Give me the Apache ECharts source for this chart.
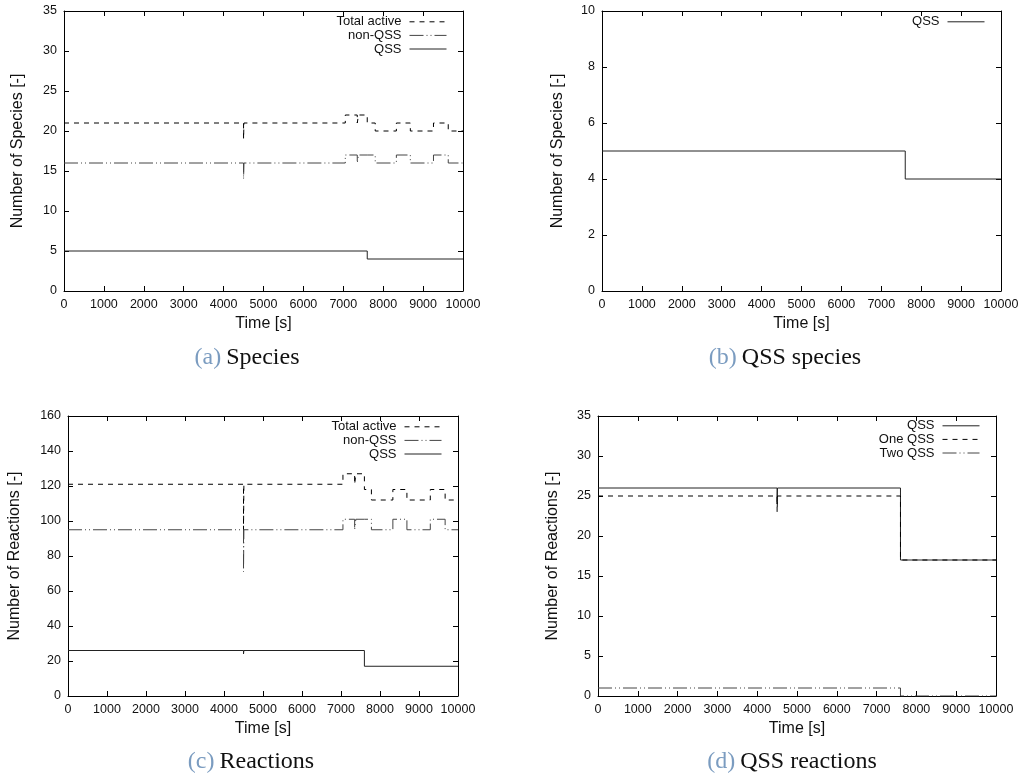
<!DOCTYPE html>
<html><head><meta charset="utf-8">
<script src="https://cdn.jsdelivr.net/npm/echarts@6/dist/echarts.min.js"></script>
<style>html,body{margin:0;padding:0;background:#fff}#c{width:1023px;height:778px}</style>
</head><body><div id="c"></div>
<script>
// ---- (a) Species ----
const aTime = [0, 4500, 4510, 7050, 7350, 7380, 7600, 7800, 8330, 8680, 9260, 9630, 10000];
const aTotalActive = [21, 19, 21, 22, 21, 22, 21, 20, 21, 20, 21, 20, 20];
const aNonQSS = [16, 14, 16, 17, 16, 17, 17, 16, 17, 16, 17, 16, 16];
const aQSSTime = [0, 7600, 10000];
const aQSS = [5, 4, 4];
// ---- (b) QSS species ----
const bTime = [0, 7600, 10000];
const bQSS = [5, 4, 4];
// ---- (c) Reactions ----
const cTime = [0, 4500, 4510, 7050, 7350, 7380, 7600, 7780, 8330, 8690, 9290, 9670, 10000];
const cTotalActive = [121, 95, 121, 127, 121, 127, 118, 112, 118, 112, 118, 112, 112];
const cNonQSS = [95, 71, 95, 101, 95, 101, 101, 95, 101, 95, 101, 95, 95];
const cQSSTime = [0, 4500, 4510, 7600, 10000];
const cQSS = [26, 24, 26, 17, 17];
// ---- (d) QSS reactions ----
const dTime = [0, 4500, 4510, 7600, 10000];
const dQSS = [26, 24, 26, 17, 17];
const dOneQSS = [25, 23, 25, 17, 17];
const dTwoQSSTime = [0, 7600, 10000];
const dTwoQSS = [1, 0, 0];
// ---- axes / captions ----
const xName = 'Time [s]';
const yNames = ['Number of Species [-]', 'Number of Species [-]', 'Number of Reactions [-]', 'Number of Reactions [-]'];
const yMax = [35, 10, 160, 35];
const yStep = [5, 2, 20, 5];
const captionTags = ['(a)', '(b)', '(c)', '(d)'];
const captionTexts = ['Species', 'QSS species', 'Reactions', 'QSS reactions'];

const FONT = 'Liberation Sans';
const grids = [
  {left: 64, top: 11, width: 399, height: 280},
  {left: 602, top: 11, width: 399, height: 280},
  {left: 68, top: 416, width: 390, height: 280},
  {left: 598, top: 416, width: 398, height: 280}
];
const yNameGaps = [38, 36, 45, 37];
const captionPos = [[247, 346], [785, 346], [251, 750], [792, 750]];
const legendPos = [[576, 15], [38, 15], [581, 420], [43, 419]];
const legendData = [
  ['Total active', 'non-QSS', 'QSS'],
  ['QSS'],
  ['Total active', 'non-QSS', 'QSS'],
  ['QSS', 'One QSS', 'Two QSS']
];

const pairs = (t, v) => t.map((x, i) => [x, v[i]]);
const styles = {
  solid: {color: '#222', width: 1, type: 'solid'},
  dash: {color: '#000', width: 1, type: [5, 5]},
  dashdot: {color: '#444', width: 1, type: [14, 3, 1, 3, 1, 3]}
};
function mkSeries(name, panel, data, st) {
  return {
    type: 'line', name, xAxisIndex: panel * 2, yAxisIndex: panel * 2,
    data, step: 'end', symbol: 'none', showSymbol: false, animation: false,
    lineStyle: styles[st], itemStyle: {color: styles[st].color}, emphasis: {disabled: true}
  };
}

const plain = v => String(v);
const xAxes = [], yAxes = [];
grids.forEach((g, i) => {
  const tickCommon = {show: true, inside: true, length: 5, lineStyle: {color: '#000', width: 1}};
  const lineCommon = {show: true, onZero: false, lineStyle: {color: '#000', width: 1}};
  xAxes.push({
    gridIndex: i, type: 'value', min: 0, max: 10000, interval: 1000, position: 'bottom',
    axisLine: lineCommon, axisTick: tickCommon, splitLine: {show: false},
    axisLabel: {show: true, formatter: plain, fontFamily: FONT, fontSize: 12.5, color: '#111', margin: 7, hideOverlap: false, showMaxLabel: true, showMinLabel: true},
    name: xName, nameLocation: 'middle', nameGap: 25,
    nameTextStyle: {fontFamily: FONT, fontSize: 16, color: '#111'}
  });
  xAxes.push({
    gridIndex: i, type: 'value', min: 0, max: 10000, interval: 1000, position: 'top',
    axisLine: lineCommon, axisTick: tickCommon, splitLine: {show: false}, axisLabel: {show: false}
  });
  yAxes.push({
    gridIndex: i, type: 'value', min: 0, max: yMax[i], interval: yStep[i], position: 'left',
    axisLine: lineCommon, axisTick: tickCommon, splitLine: {show: false},
    axisLabel: {show: true, formatter: plain, fontFamily: FONT, fontSize: 12.5, color: '#111', margin: 7, showMaxLabel: true, showMinLabel: true},
    name: yNames[i], nameLocation: 'middle', nameGap: yNameGaps[i], nameRotate: 90,
    nameTextStyle: {fontFamily: FONT, fontSize: 16, color: '#111'}
  });
  yAxes.push({
    gridIndex: i, type: 'value', min: 0, max: yMax[i], interval: yStep[i], position: 'right',
    axisLine: lineCommon, axisTick: tickCommon, splitLine: {show: false}, axisLabel: {show: false}
  });
});

const series = [
  mkSeries('Total active', 0, pairs(aTime, aTotalActive), 'dash'),
  mkSeries('non-QSS', 0, pairs(aTime, aNonQSS), 'dashdot'),
  mkSeries('QSS', 0, pairs(aQSSTime, aQSS), 'solid'),
  mkSeries('QSS', 1, pairs(bTime, bQSS), 'solid'),
  mkSeries('Total active', 2, pairs(cTime, cTotalActive), 'dash'),
  mkSeries('non-QSS', 2, pairs(cTime, cNonQSS), 'dashdot'),
  mkSeries('QSS', 2, pairs(cQSSTime, cQSS), 'solid'),
  mkSeries('QSS', 3, pairs(dTime, dQSS), 'solid'),
  mkSeries('One QSS', 3, pairs(dTime, dOneQSS), 'dash'),
  mkSeries('Two QSS', 3, pairs(dTwoQSSTime, dTwoQSS), 'dashdot')
];

const legends = legendData.map((d, i) => ({
  data: d, orient: 'vertical', align: 'right', right: legendPos[i][0], top: legendPos[i][1],
  itemWidth: 37, itemHeight: 10, itemGap: 0, selectedMode: false, padding: 0,
  itemStyle: {opacity: 0},
  lineStyle: {width: 1},
  textStyle: {fontFamily: FONT, fontSize: 13, color: '#111', lineHeight: 13.6, padding: [0, 3, 0, 0]}
}));

const titles = captionTags.map((tag, i) => ({
  text: '{t|' + tag + '} {c|' + captionTexts[i] + '}',
  left: captionPos[i][0], top: captionPos[i][1], textAlign: 'center', padding: 0,
  textStyle: {
    fontWeight: 'normal',
    rich: {
      t: {fontFamily: 'Liberation Serif', fontSize: 24, fontWeight: 'normal', color: '#7b9cc0'},
      c: {fontFamily: 'Liberation Serif', fontSize: 24, fontWeight: 'normal', color: '#111'}
    }
  }
}));

const chart = echarts.init(document.getElementById('c'), null, {renderer: 'canvas'});
chart.setOption({
  backgroundColor: '#fff',
  animation: false,
  title: titles,
  legend: legends,
  grid: grids.map(g => Object.assign({containLabel: false}, g)),
  xAxis: xAxes,
  yAxis: yAxes,
  series
});
</script>
</body></html>
